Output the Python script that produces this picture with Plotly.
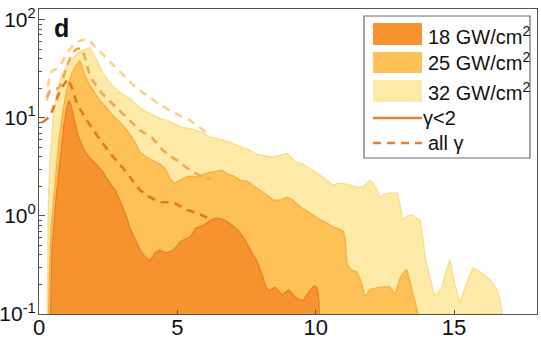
import plotly.graph_objects as go

# ---- 18 GW/cm^2 : gamma < 2 (filled) ----
x18 = [0.40, 0.42, 0.47, 0.61, 0.76, 0.90, 1.01, 1.08, 1.16, 1.26, 1.41, 1.63, 1.84, 2.10,
       2.31, 2.49, 2.75, 2.96, 3.14, 3.29, 3.47, 3.65, 3.83, 4.01, 4.19, 4.37, 4.59, 4.81,
       4.95, 5.10, 5.28, 5.46, 5.67, 5.96, 6.22, 6.40, 6.58, 6.83, 7.19, 7.45, 7.70, 7.91,
       8.10, 8.20, 8.35, 8.53, 8.78, 9.03, 9.29, 9.54, 9.76, 9.94, 10.05, 10.12, 10.17]
y18 = [0.05, 0.139, 0.449, 1.45, 3.69, 8.37, 12.8, 15.0, 13.4, 9.86, 6.62, 4.67, 3.87, 3.28,
       2.79, 2.31, 1.83, 1.35, 1.02, 0.752, 0.568, 0.449, 0.381, 0.348, 0.42, 0.449, 0.42, 0.44,
       0.48, 0.542, 0.58, 0.609, 0.752, 0.807, 0.91, 0.95, 0.93, 0.865, 0.718, 0.568, 0.42, 0.331,
       0.233, 0.189, 0.172, 0.189, 0.157, 0.176, 0.146, 0.136, 0.168, 0.193, 0.185, 0.133, 0.05]

# ---- 25 GW/cm^2 : gamma < 2 (filled) ----
x25 = [0.34, 0.36, 0.43, 0.58, 0.72, 0.87, 1.01, 1.16, 1.30, 1.48, 1.66, 1.84, 2.02, 2.20,
       2.46, 2.67, 2.93, 3.18, 3.43, 3.65, 3.90, 4.12, 4.37, 4.55, 4.73, 4.88, 5.10, 5.31,
       5.53, 5.75, 5.96, 6.18, 6.40, 6.61, 6.83, 7.05, 7.26, 7.52, 7.77, 7.99, 8.24, 8.46,
       8.71, 8.96, 9.14, 9.32, 9.50, 9.69, 9.90, 10.16, 10.41, 10.63, 10.84, 10.99, 11.06,
       11.13, 11.28, 11.49, 11.67, 11.78, 11.96, 12.22, 12.43, 12.69, 12.87, 13.05, 13.23,
       13.30, 13.48, 13.70, 13.73]
y25 = [0.05, 0.176, 0.718, 2.31, 5.89, 11.9, 19.9, 27.0, 33.3, 38.3, 27.0, 21.3, 17.7, 15.0,
       12.5, 10.6, 8.98, 7.44, 5.89, 4.45, 3.96, 3.69, 3.36, 3.06, 2.42, 2.15, 2.31, 2.48,
       2.54, 2.48, 2.66, 2.79, 2.85, 2.92, 2.66, 2.54, 2.31, 2.26, 2.01, 1.83, 1.63, 1.45,
       1.45, 1.55, 1.48, 1.32, 1.20, 1.12, 1.02, 0.91, 0.845, 0.769, 0.734, 0.701, 0.594,
       0.324, 0.281, 0.269, 0.203, 0.150, 0.176, 0.185, 0.189, 0.189, 0.157, 0.233, 0.275,
       0.281, 0.176, 0.100, 0.05]

# ---- 32 GW/cm^2 : gamma < 2 (filled) ----
x32 = [0.29, 0.31, 0.34, 0.40, 0.51, 0.65, 0.83, 1.12, 1.48, 1.84, 2.10, 2.31, 2.64, 2.93,
       3.29, 3.65, 4.01, 4.37, 4.63, 4.84, 5.20, 5.46, 5.71, 5.96, 6.18, 6.43, 6.65, 6.90,
       7.16, 7.41, 7.63, 7.84, 7.99, 8.24, 8.46, 8.71, 8.96, 9.14, 9.32, 9.54, 9.79, 10.01,
       10.26, 10.44, 10.63, 10.81, 10.99, 11.24, 11.49, 11.71, 11.85, 11.96, 12.07, 12.22,
       12.32, 12.50, 12.69, 12.94, 13.05, 13.12, 13.30, 13.48, 13.62, 13.77, 13.88, 13.95,
       14.13, 14.31, 14.49, 14.56, 14.71, 14.85, 15.03, 15.22, 15.43, 15.68, 15.94, 16.30,
       16.55, 16.66, 16.73, 16.77]
y32 = [0.05, 0.449, 1.45, 3.69, 9.41, 18.1, 27.6, 38.3, 47.3, 51.9, 38.3, 28.3, 21.3, 18.1,
       15.7, 12.5, 11.1, 9.86, 9.41, 8.77, 7.98, 7.80, 7.44, 6.94, 6.32, 6.18, 5.89, 5.62,
       5.24, 4.89, 4.67, 4.25, 4.15, 4.06, 3.96, 4.15, 4.35, 3.87, 3.52, 3.36, 3.06, 2.79,
       2.48, 2.26, 2.06, 2.15, 2.15, 2.06, 1.96, 1.96, 2.15, 2.31, 2.15, 1.83, 1.55, 1.67,
       1.71, 1.71, 1.29, 0.91, 0.995, 1.02, 0.95, 0.91, 0.568, 0.381, 0.233, 0.150, 0.176,
       0.189, 0.269, 0.356, 0.198, 0.130, 0.198, 0.295, 0.269, 0.223, 0.176, 0.139, 0.103, 0.05]

# ---- all gamma (dashed) ----
x18_all = [0.11, 0.22, 0.40, 0.58, 0.69, 0.87, 1.05, 1.23, 1.37, 1.66, 2.10, 2.57, 3.04,
           3.65, 4.01, 4.37, 4.84, 5.35, 5.71, 6.18]
y18_all = [8.98, 9.41, 10.3, 14.0, 16.9, 21.3, 25.1, 19.0, 14.0, 10.1, 6.62, 4.35, 3.06,
           1.83, 1.55, 1.38, 1.38, 1.15, 1.07, 0.93]

x25_all = [0.29, 0.40, 0.54, 0.69, 0.83, 1.01, 1.19, 1.37, 1.55, 1.70, 1.84, 2.06, 2.28,
           2.57, 2.82, 3.07, 3.29, 3.65, 4.08, 4.48, 4.73, 4.99, 5.46, 5.93, 6.18]
y25_all = [16.1, 19.0, 19.9, 19.9, 22.9, 34.1, 45.1, 50.7, 50.7, 38.3, 26.4, 21.3, 17.7,
           14.7, 12.5, 10.8, 9.41, 7.44, 6.32, 4.67, 4.06, 3.69, 2.92, 2.48, 2.37]

x32_all = [0.29, 0.33, 0.40, 0.51, 0.65, 0.83, 1.01, 1.23, 1.48, 1.77, 2.02, 2.39, 2.75,
           3.11, 3.47, 3.76, 4.26, 4.84, 5.46, 5.82, 6.07]
y32_all = [15.0, 21.3, 28.3, 30.3, 31.8, 36.6, 46.2, 54.5, 61.2, 64.1, 53.2, 42.1, 33.3,
           26.4, 20.8, 18.1, 14.3, 11.4, 9.41, 7.98, 6.94]

x_ticks = [0, 5, 10, 15]
y_ticks = [0.1, 1, 10, 100]
y_ticktext = ["10<sup>-1</sup>", "10<sup>0</sup>", "10<sup>1</sup>", "10<sup>2</sup>"]
y_minor = [m * 10.0 ** e for e in (-1, 0, 1) for m in range(2, 10)]

legend_labels = ["18 GW/cm<sup>2</sup>", "25 GW/cm<sup>2</sup>", "32 GW/cm<sup>2</sup>",
                 "\u03b3&lt;2", "all \u03b3"]

FILL = {"18": "#F7932E", "25": "#FDC158", "32": "#FEEAA8"}
EDGE = {"18": "#E8822A", "25": "#F6B144", "32": "#F9DC8E"}
DASH = {"18": "#E0782A", "25": "#F3A750", "32": "#FAD38A"}
LEG_LINE = "#E8812E"
AXIS = "#555555"

fig = go.Figure()

for key, xs, ys in (("32", x32, y32), ("25", x25, y25), ("18", x18, y18)):
    fig.add_trace(go.Scatter(x=xs, y=ys, mode="lines", fill="toself",
                             fillcolor=FILL[key],
                             line=dict(color=EDGE[key], width=1.4),
                             hoverinfo="skip"))

for key, xs, ys in (("32", x32_all, y32_all), ("25", x25_all, y25_all), ("18", x18_all, y18_all)):
    fig.add_trace(go.Scatter(x=xs, y=ys, mode="lines",
                             line=dict(color=DASH[key], width=2.6, dash="8px,6px"),
                             hoverinfo="skip"))

W, H = 541, 339
ML, MR, MT, MB = 39, 4, 9, 25
PW, PH = W - ML - MR, H - MT - MB


def fx(p):
    return (p - ML) / PW


def fy(p):
    return (H - MB - p) / PH


shapes = []
annotations = []

# legend frame
shapes.append(dict(type="rect", xref="paper", yref="paper",
                   x0=fx(364), x1=fx(530), y0=fy(158), y1=fy(16),
                   line=dict(color="#6a6a6a", width=1.2), fillcolor="white", layer="above"))

# legend swatches
sw_rows = [(23, 45), (52, 73), (80, 102)]
for (t, b), key in zip(sw_rows, ("18", "25", "32")):
    shapes.append(dict(type="rect", xref="paper", yref="paper",
                       x0=fx(373), x1=fx(422), y0=fy(b), y1=fy(t),
                       line=dict(width=0), fillcolor=FILL[key], layer="above"))

shapes.append(dict(type="line", xref="paper", yref="paper",
                   x0=fx(373), x1=fx(422), y0=fy(118), y1=fy(118),
                   line=dict(color=LEG_LINE, width=2.6), layer="above"))
shapes.append(dict(type="line", xref="paper", yref="paper",
                   x0=fx(373), x1=fx(422), y0=fy(143), y1=fy(143),
                   line=dict(color=LEG_LINE, width=2.6, dash="8px,6px"), layer="above"))

text_rows = [(426, 35), (426, 62), (426, 91), (421, 118), (426, 143)]
for (tx, ty), lab in zip(text_rows, legend_labels):
    annotations.append(dict(xref="paper", yref="paper", x=fx(tx), y=fy(ty),
                            text=lab, showarrow=False, xanchor="left", yanchor="middle",
                            font=dict(size=20, color="#111111")))

annotations.append(dict(xref="paper", yref="paper", x=fx(52), y=fy(28),
                        text="<b>d</b>", showarrow=False, xanchor="left", yanchor="middle",
                        font=dict(size=25, color="#111111")))

fig.update_layout(
    width=W, height=H,
    margin=dict(l=ML, r=MR, t=MT, b=MB, pad=0),
    paper_bgcolor="white", plot_bgcolor="white",
    showlegend=False,
    font=dict(family="Arial, 'Liberation Sans', sans-serif", size=22, color="#111111"),
    shapes=shapes, annotations=annotations,
    xaxis=dict(range=[0, 18], tickvals=x_ticks, ticks="inside", ticklen=4,
               tickcolor=AXIS, showline=True, linecolor=AXIS, linewidth=1.2,
               mirror=True, showgrid=False, zeroline=False, automargin=False,
               ticklabelstandoff=-7),
    yaxis=dict(type="log", range=[-1, 2.11], tickvals=y_ticks, ticktext=y_ticktext,
               ticks="inside", ticklen=6, tickcolor=AXIS, showline=True,
               linecolor=AXIS, linewidth=1.2, mirror=True, showgrid=False,
               zeroline=False, automargin=False, ticklabelstandoff=-2,
               tickfont=dict(size=21),
               minor=dict(tickvals=y_minor, ticks="inside", ticklen=3,
                          tickcolor=AXIS, showgrid=False)),
)

fig.write_html("out.html")
